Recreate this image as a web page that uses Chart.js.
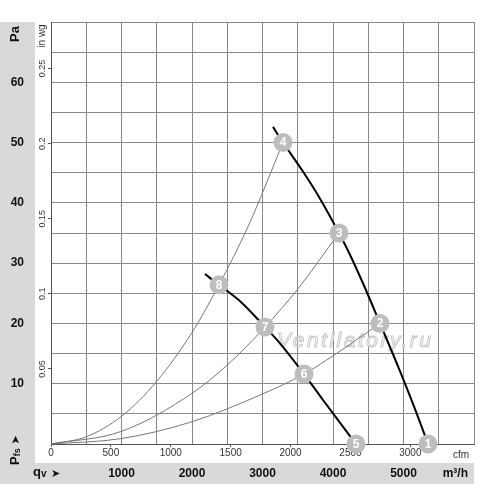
<!DOCTYPE html>
<html>
<head>
<meta charset="utf-8">
<script src="https://cdn.jsdelivr.net/npm/chart.js@4.4.0/dist/chart.umd.min.js"></script>
<style>
  html, body { margin: 0; padding: 0; background: #fff; }
  #wrap { width: 500px; height: 484px; }
</style>
</head>
<body>
<div id="wrap"><canvas id="fanChart"></canvas></div>
<script>
// unit conversions for the secondary axes
const M3H_PER_CFM = 1.69901;
const PA_PER_INWG = 249.089;
const qMax = 6000;   // m3/h
const paMax = 70;    // Pa

// tick labels of the secondary axes
const cfmTicks = [0, 500, 1000, 1500, 2000, 2500, 3000];
const inwgTicks = [0.05, 0.1, 0.15, 0.2, 0.25];

// fan curves (thick black)
const highCurveQ  = [3149, 3291, 3574, 3816, 4085, 4241, 4450, 4667, 4950, 5150, 5348];
const highCurvePa = [52.6, 50, 45.2, 40.7, 35, 31.4, 26.0, 20, 12.1, 6.2, 0];
const lowCurveQ   = [2184, 2383, 2709, 3035, 3248, 3589, 3858, 4326];
const lowCurvePa  = [28.2, 26.4, 23.4, 19.4, 16.7, 11.6, 7.3, 0];

// system curves (thin gray)
const sysAQ  = [0, 500, 1000, 1500, 2000, 2383, 2800, 3291];
const sysAPa = [0, 1.2, 4.6, 10.4, 18.5, 26.4, 36.2, 50];
const sysBQ  = [0, 1000, 2000, 2500, 3035, 3500, 4085];
const sysBPa = [0, 2.1, 8.4, 13.1, 19.4, 25.7, 35];
const sysCQ  = [0, 1000, 2000, 3000, 3589, 4200, 4667];
const sysCPa = [0, 0.9, 3.7, 8.3, 11.6, 16.2, 20];

// numbered operating points
const pointNo = ['1', '2', '3', '4', '5', '6', '7', '8'];
const pointQ  = [5348, 4667, 4085, 3291, 4326, 3589, 3035, 2383];
const pointPa = [0, 20, 35, 50, 0, 11.6, 19.4, 26.4];

const FONT = "'Liberation Sans', Arial, sans-serif";
Chart.defaults.font.family = FONT;

function toXY(qs, ps) {
    return qs.map((q, i) => ({ x: q, y: ps[i] }));
}

function line(qs, ps, color, width) {
    return {
        data: toXY(qs, ps),
        showLine: true,
        borderColor: color,
        borderWidth: width,
        pointRadius: 0,
        cubicInterpolationMode: 'monotone',
        fill: false
    };
}

// gray bands behind the axis labels
const bandsPlugin = {
    id: 'bands',
    beforeDraw(chart) {
        const ctx = chart.ctx;
        const area = chart.chartArea;
        const xs = chart.scales.x;
        ctx.save();
        ctx.fillStyle = '#d9d9d9';
        ctx.fillRect(0, area.top, chart.scales.y.right, chart.height - area.top);
        ctx.fillRect(0, xs.top, area.right, xs.bottom - xs.top);
        ctx.restore();
    }
};

const watermarkPlugin = {
    id: 'watermark',
    beforeDatasetsDraw(chart) {
        const ctx = chart.ctx;
        ctx.save();
        ctx.font = 'italic 21px ' + FONT;
        ctx.letterSpacing = '2.5px';
        ctx.textBaseline = 'alphabetic';
        ctx.fillStyle = 'rgba(255,255,255,0.9)';
        ctx.strokeStyle = '#c8c8c8';
        ctx.lineWidth = 1;
        ctx.fillText('Ventilatory.ru', 277, 347);
        ctx.strokeText('Ventilatory.ru', 277, 347);
        ctx.restore();
    }
};

// numbers inside the gray circles (marker dataset is index 0, drawn on top)
const pointLabelPlugin = {
    id: 'pointLabels',
    afterDatasetsDraw(chart) {
        const ctx = chart.ctx;
        const meta = chart.getDatasetMeta(0);
        ctx.save();
        ctx.font = 'bold 12px ' + FONT;
        ctx.fillStyle = '#fff';
        ctx.textAlign = 'center';
        ctx.textBaseline = 'middle';
        meta.data.forEach((el, i) => {
            ctx.fillText(pointNo[i], el.x, el.y + 0.5);
        });
        ctx.restore();
    }
};

function rotText(ctx, text, x, y, font, align) {
    ctx.save();
    ctx.translate(x, y);
    ctx.rotate(-Math.PI / 2);
    ctx.font = font;
    ctx.textAlign = align || 'center';
    ctx.textBaseline = 'middle';
    ctx.fillText(text, 0, 0);
    ctx.restore();
}

// axis titles
const titlesPlugin = {
    id: 'titles',
    afterDraw(chart) {
        const ctx = chart.ctx;
        ctx.save();
        ctx.fillStyle = '#111';
        rotText(ctx, 'Pa', 15, 34, 'bold 13px ' + FONT);
        ctx.fillStyle = '#333';
        rotText(ctx, 'in wg', 42, 36, '10px ' + FONT);

        // P fs with arrow
        ctx.fillStyle = '#111';
        ctx.save();
        ctx.translate(15, 465);
        ctx.rotate(-Math.PI / 2);
        ctx.textBaseline = 'middle';
        ctx.font = 'bold 13px ' + FONT;
        ctx.fillText('P', 0, 0);
        const pw = ctx.measureText('P').width;
        ctx.font = 'bold 9px ' + FONT;
        ctx.fillText('fs', pw, 3);
        ctx.restore();
        rotText(ctx, '\u27A4', 16, 440, '11px "DejaVu Sans"', 'center');

        // q v with arrow
        ctx.textBaseline = 'alphabetic';
        ctx.font = 'bold 13px ' + FONT;
        ctx.fillText('q', 33, 476);
        const qw = ctx.measureText('q').width;
        ctx.font = 'bold 10px ' + FONT;
        ctx.fillText('v', 33 + qw, 477);
        ctx.font = '11px "DejaVu Sans"';
        ctx.fillText('\u27A4', 51, 477);

        ctx.font = 'bold 12px ' + FONT;
        ctx.textAlign = 'right';
        ctx.fillText('m\u00B3/h', 468, 477);

        ctx.fillStyle = '#333';
        ctx.font = '10px ' + FONT;
        ctx.textBaseline = 'middle';
        ctx.fillText('cfm', 469, 455);
        ctx.restore();
    }
};

const gridColor = '#8a8a8a';

new Chart(document.getElementById('fanChart'), {
    type: 'scatter',
    data: {
        datasets: [
            {
                data: toXY(pointQ, pointPa),
                pointRadius: 9.5,
                pointHoverRadius: 9.5,
                backgroundColor: '#bdbdbd',
                borderWidth: 0,
                clip: false
            },
            line(sysAQ, sysAPa, '#777', 1),
            line(sysBQ, sysBPa, '#777', 1),
            line(sysCQ, sysCPa, '#777', 1),
            line(highCurveQ, highCurvePa, '#000', 2),
            line(lowCurveQ, lowCurvePa, '#000', 2)
        ]
    },
    options: {
        responsive: true,
        maintainAspectRatio: false,
        animation: false,
        events: [],
        layout: { padding: { top: 22, right: 26, left: 0, bottom: 0 } },
        plugins: {
            legend: { display: false },
            tooltip: { enabled: false }
        },
        scales: {
            x: {
                type: 'linear', position: 'bottom', weight: 1,
                min: 0, max: qMax,
                afterFit: s => { s.height = 21; },
                ticks: {
                    stepSize: 500, autoSkip: false, maxRotation: 0, padding: 3,
                    font: { size: 12, weight: 'bold' }, color: '#111',
                    callback: v => (v % 1000 === 0 && v > 0 && v < qMax) ? v : ''
                },
                grid: { color: gridColor, drawTicks: false },
                border: { display: false }
            },
            x2: {
                type: 'linear', position: 'bottom', weight: 0,
                min: 0, max: qMax / M3H_PER_CFM,
                afterFit: s => { s.height = 19; },
                afterBuildTicks: s => { s.ticks = cfmTicks.map(v => ({ value: v })); },
                ticks: {
                    autoSkip: false, maxRotation: 0, padding: 0,
                    font: { size: 10 }, color: '#333',
                    callback: v => String(v)
                },
                grid: { drawOnChartArea: false, tickLength: 3, color: '#555' },
                border: { color: '#555', width: 1 }
            },
            y: {
                type: 'linear', position: 'left', weight: 1,
                min: 0, max: paMax,
                afterFit: s => { s.width = 35; },
                ticks: {
                    stepSize: 5, autoSkip: false, crossAlign: 'center', padding: 11,
                    font: { size: 12, weight: 'bold' }, color: '#111',
                    callback: v => (v % 10 === 0 && v > 0 && v < paMax) ? v : ''
                },
                grid: { color: gridColor, drawTicks: false },
                border: { display: false }
            },
            y2: {
                type: 'linear', position: 'left', weight: 0,
                min: 0, max: paMax / PA_PER_INWG,
                afterFit: s => { s.width = 16; },
                afterBuildTicks: s => { s.ticks = inwgTicks.map(v => ({ value: v })); },
                ticks: {
                    autoSkip: false, minRotation: 90, maxRotation: 90,
                    crossAlign: 'center', padding: -3,
                    font: { size: 9 }, color: '#333',
                    callback: v => String(v)
                },
                grid: { drawOnChartArea: false, tickLength: 3, color: '#555' },
                border: { color: '#555', width: 1 }
            }
        }
    },
    plugins: [bandsPlugin, watermarkPlugin, pointLabelPlugin, titlesPlugin]
});
</script>
</body>
</html>
